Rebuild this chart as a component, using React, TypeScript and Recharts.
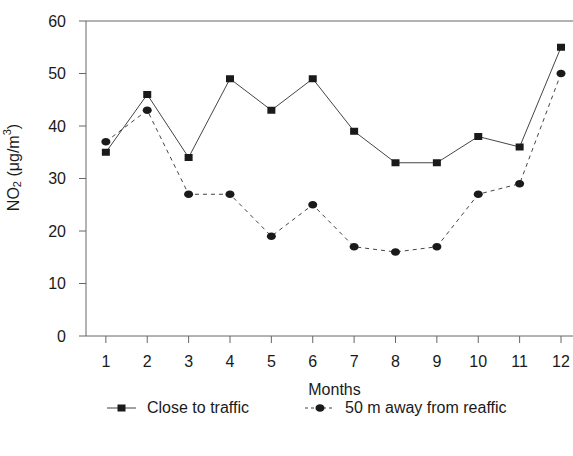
import React from "react";
import {
  LineChart,
  Line,
  XAxis,
  YAxis,
  ReferenceLine,
} from "recharts";

const months = [1, 2, 3, 4, 5, 6, 7, 8, 9, 10, 11, 12];
const closeToTraffic = [35, 46, 34, 49, 43, 49, 39, 33, 33, 38, 36, 55];
const awayFromTraffic = [37, 43, 27, 27, 19, 25, 17, 16, 17, 27, 29, 50];
const yTicks = [0, 10, 20, 30, 40, 50, 60];

const FONT = "'Liberation Sans', Arial, Helvetica, sans-serif";
const AXIS = "#666";
const INK = "#1a1a1a";

const data = months.map((m, i) => ({
  month: m,
  close: closeToTraffic[i],
  away: awayFromTraffic[i],
}));

function SquareDot(props: any) {
  const { cx, cy } = props;
  if (cx == null || cy == null) return null;
  return <rect x={cx - 4} y={cy - 3.5} width={8} height={7} fill={INK} />;
}

function RoundDot(props: any) {
  const { cx, cy } = props;
  if (cx == null || cy == null) return null;
  return <ellipse cx={cx} cy={cy} rx={4.5} ry={3.8} fill={INK} />;
}

function YLabel(props: any) {
  const { viewBox } = props;
  const x = 13;
  const y = viewBox.y + viewBox.height / 2 - 11;
  return (
    <text
      x={x}
      y={y}
      transform={`rotate(-90, ${x}, ${y})`}
      textAnchor="middle"
      dominantBaseline="central"
      fontSize={16}
      fontFamily={FONT}
      fill={INK}
    >
      NO
      <tspan fontSize={11} dy={4}>2</tspan>
      <tspan dy={-4}> (μg/m</tspan>
      <tspan fontSize={11} dy={-6}>3</tspan>
      <tspan dy={6}>)</tspan>
    </text>
  );
}

function XLabel(props: any) {
  const { viewBox } = props;
  return (
    <text
      x={viewBox.x + viewBox.width / 2 + 5}
      y={viewBox.y + 59}
      textAnchor="middle"
      fontSize={16}
      fontFamily={FONT}
      fill={INK}
    >
      Months
    </text>
  );
}

export default function App() {
  return (
    <div style={{ position: "absolute", left: 0, top: 0, width: 573, height: 456, background: "#fff" }}>
      <LineChart
        width={573}
        height={456}
        data={data}
        margin={{ top: 21, right: 0, bottom: 60, left: 16 }}
      >
        <XAxis
          dataKey="month"
          type="number"
          domain={[0.52, 12.29]}
          ticks={months}
          allowDataOverflow
          height={60}
          tickSize={7}
          tickMargin={13}
          stroke={AXIS}
          tick={{ fill: INK, fontSize: 16, fontFamily: FONT }}
          label={<XLabel />}
        />
        <YAxis
          domain={[0, 60]}
          ticks={yTicks}
          width={70}
          tickSize={7}
          tickMargin={13}
          stroke={AXIS}
          tick={{ fill: INK, fontSize: 16, fontFamily: FONT }}
          label={<YLabel />}
        />
        <ReferenceLine y={60} stroke={AXIS} />
        <Line
          dataKey="close"
          stroke="#444"
          strokeWidth={1}
          dot={<SquareDot />}
          isAnimationActive={false}
        />
        <Line
          dataKey="away"
          stroke="#444"
          strokeWidth={1}
          strokeDasharray="4 4"
          dot={<RoundDot />}
          isAnimationActive={false}
        />
      </LineChart>
      <div
        style={{
          position: "absolute",
          top: 398,
          left: 0,
          width: 573,
          height: 20,
          fontFamily: FONT,
          fontSize: 16,
          color: INK,
        }}
      >
        <svg style={{ position: "absolute", left: 107, top: 4 }} width={30} height={12}>
          <line x1={0} y1={6} x2={29} y2={6} stroke="#444" strokeWidth={1} />
          <rect x={10.5} y={2.5} width={8} height={7} fill={INK} />
        </svg>
        <span style={{ position: "absolute", left: 147, top: 0, lineHeight: "20px" }}>
          Close to traffic
        </span>
        <svg style={{ position: "absolute", left: 305, top: 4 }} width={31} height={12}>
          <line x1={0} y1={6} x2={30} y2={6} stroke="#444" strokeWidth={1} strokeDasharray="3 3" />
          <ellipse cx={15} cy={6} rx={4.5} ry={3.8} fill={INK} />
        </svg>
        <span style={{ position: "absolute", left: 345, top: 0, lineHeight: "20px" }}>
          50 m away from reaffic
        </span>
      </div>
    </div>
  );
}
